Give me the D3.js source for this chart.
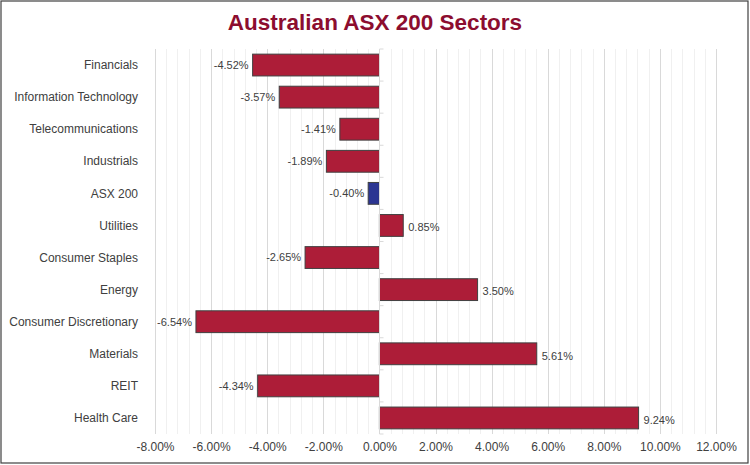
<!DOCTYPE html>
<html>
<head>
<meta charset="utf-8">
<script src="https://cdn.jsdelivr.net/npm/d3@7"></script>
<style>
  body { margin: 0; background: #fff; }
  text { font-family: "Liberation Sans", Arial, sans-serif; }
</style>
</head>
<body>
<svg id="chart" width="750" height="465"></svg>
<script>
// sector returns, top to bottom as drawn
var sectors = ["Financials", "Information Technology", "Telecommunications", "Industrials",
  "ASX 200", "Utilities", "Consumer Staples", "Energy", "Consumer Discretionary",
  "Materials", "REIT", "Health Care"];
var returns = [-4.52, -3.57, -1.41, -1.89, -0.40, 0.85, -2.65, 3.50, -6.54, 5.61, -4.34, 9.24];
var xTicks = [-8, -6, -4, -2, 0, 2, 4, 6, 8, 10, 12];

function pct(v) { return v.toFixed(2) + "%"; }

var svg = d3.select("#chart");
var W = 750, H = 465;
var plotL = 155, plotR = 716, plotT = 49, plotB = 434;

// outer frame
svg.append("rect")
  .attr("x", 1).attr("y", 1)
  .attr("width", W - 3).attr("height", H - 3)
  .attr("fill", "#fff").attr("stroke", "#404040").attr("stroke-width", 1.2);

svg.append("text")
  .attr("x", W / 2).attr("y", 30)
  .attr("text-anchor", "middle")
  .attr("font-size", 22.5).attr("font-weight", "bold")
  .attr("fill", "#8c0d2f")
  .text("Australian ASX 200 Sectors");

var x = d3.scaleLinear().domain([-8, 12]).range([plotL, plotR]);
var y = d3.scaleBand().domain(sectors).range([plotT, plotB]).paddingInner(0.32).paddingOuter(0.16);

// minor gridlines every 0.4%
var minor = d3.range(-8, 12.001, 0.4).map(function(v) { return Math.round(v * 10) / 10; });
svg.append("g").selectAll("line").data(minor).join("line")
  .attr("x1", function(d) { return Math.round(x(d)) + 0.5; })
  .attr("x2", function(d) { return Math.round(x(d)) + 0.5; })
  .attr("y1", plotT).attr("y2", plotB)
  .attr("stroke", "#f0f0f0").attr("stroke-width", 1);

// major gridlines
svg.append("g").selectAll("line").data(xTicks).join("line")
  .attr("x1", function(d) { return Math.round(x(d)) + 0.5; })
  .attr("x2", function(d) { return Math.round(x(d)) + 0.5; })
  .attr("y1", plotT).attr("y2", plotB)
  .attr("stroke", "#d9d9d9").attr("stroke-width", 1);

// x axis labels
var xAxis = d3.axisBottom(x).tickValues(xTicks).tickSize(0).tickPadding(0)
  .tickFormat(pct);
var gx = svg.append("g").attr("transform", "translate(0," + (plotB + 17) + ")").call(xAxis);
gx.select(".domain").remove();
gx.selectAll("text").attr("font-size", 12).attr("fill", "#404040")
  .attr("font-family", "Liberation Sans, Arial, sans-serif").attr("dy", 0);

// bars
var rows = sectors.map(function(s, i) { return { name: s, value: returns[i] }; });
svg.append("g").selectAll("rect").data(rows).join("rect")
  .attr("x", function(d) { return x(Math.min(0, d.value)); })
  .attr("y", function(d) { return y(d.name); })
  .attr("width", function(d) { return Math.abs(x(d.value) - x(0)); })
  .attr("height", y.bandwidth())
  .attr("fill", function(d) { return d.name === "ASX 200" ? "#2b3592" : "#ad1d38"; })
  .attr("stroke", "#404040").attr("stroke-width", 1);

// category axis line at zero
var zx = Math.round(x(0)) + 0.5;
svg.append("line")
  .attr("x1", zx).attr("x2", zx).attr("y1", plotT).attr("y2", plotB)
  .attr("stroke", "#d9d9d9");
svg.append("g").selectAll("line").data(d3.range(sectors.length + 1)).join("line")
  .attr("x1", zx).attr("x2", zx + 4)
  .attr("y1", function(i) { return plotT + i * (plotB - plotT) / sectors.length; })
  .attr("y2", function(i) { return plotT + i * (plotB - plotT) / sectors.length; })
  .attr("stroke", "#d9d9d9");

// category labels
svg.append("g").selectAll("text").data(sectors).join("text")
  .attr("x", 138)
  .attr("y", function(d) { return y(d) + y.bandwidth() / 2; })
  .attr("dy", "0.35em")
  .attr("text-anchor", "end")
  .attr("font-size", 12).attr("fill", "#404040")
  .text(function(d) { return d; });

// value labels
svg.append("g").selectAll("text").data(rows).join("text")
  .attr("x", function(d) { return d.value < 0 ? x(d.value) - 4 : x(d.value) + 5; })
  .attr("y", function(d) { return y(d.name) + y.bandwidth() / 2 + (d.value < 0 ? 0 : 2); })
  .attr("dy", "0.35em")
  .attr("text-anchor", function(d) { return d.value < 0 ? "end" : "start"; })
  .attr("font-size", 11).attr("fill", "#404040")
  .text(function(d) { return pct(d.value); });
</script>
</body>
</html>
